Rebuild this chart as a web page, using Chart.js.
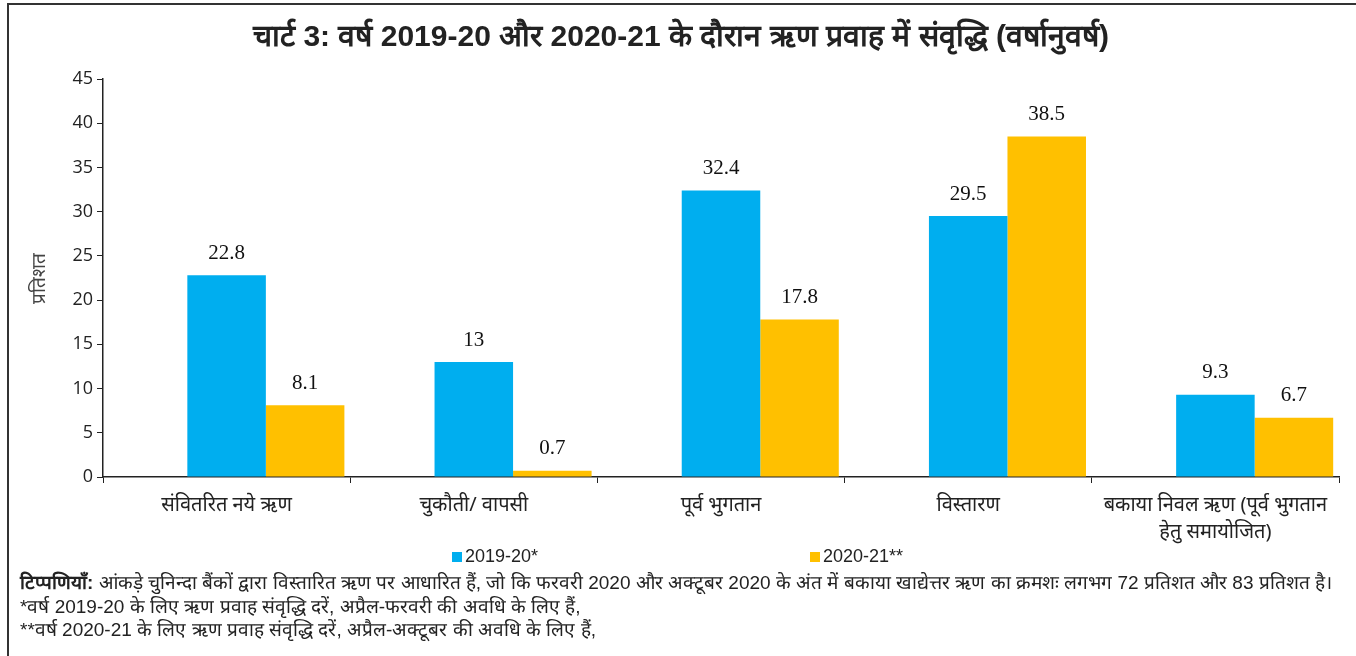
<!DOCTYPE html>
<html lang="hi">
<head>
<meta charset="utf-8">
<script src="https://cdn.jsdelivr.net/npm/chart.js@4.4.0/dist/chart.umd.min.js"></script>
<style>
  body { margin: 0; background: #fff; }
  #wrap { position: relative; width: 1356px; height: 656px; overflow: hidden; }
  #frame { position: absolute; left: 7px; top: 3px; right: -5px; bottom: -5px;
           border-left: 2px solid #333; border-top: 2px solid #333; }
  #chart { position: absolute; left: 0; top: 0; }
  #title { position: absolute; top: 14px; left: 0; width: 1362px; text-align: center;
           font: bold 30px "Liberation Sans Narrow", "Liberation Sans", sans-serif; color: #222; }
  .leg { position: absolute; top: 546px; font: 18px "Liberation Sans Narrow", "Liberation Sans", sans-serif; color: #222; }
  .leg i { display: inline-block; width: 10px; height: 10px; margin-right: 3px; }
  #notes { position: absolute; left: 20px; top: 571px; font: 19px/23.5px "Liberation Sans Narrow", "Liberation Sans", sans-serif; color: #222; white-space: nowrap; }
</style>
</head>
<body>
<div id="wrap">
  <div id="frame"></div>
  <canvas id="chart" width="1356" height="656"></canvas>
  <div id="title">चार्ट 3: वर्ष 2019-20 और 2020-21 के दौरान ऋण प्रवाह में संवृद्धि (वर्षानुवर्ष)</div>
  <div class="leg" id="leg1"></div>
  <div class="leg" id="leg2"></div>
  <div id="notes">
    <b>टिप्पणियाँ:</b> आंकड़े चुनिन्दा बैंकों द्वारा विस्तारित ऋण पर आधारित हैं, जो कि फरवरी 2020 और अक्टूबर 2020 के अंत में बकाया खाद्येत्तर ऋण का क्रमशः लगभग 72 प्रतिशत और 83 प्रतिशत है।<br>
    *वर्ष 2019-20 के लिए ऋण प्रवाह संवृद्धि दरें, अप्रैल-फरवरी की अवधि के लिए हैं,<br>
    **वर्ष 2020-21 के लिए ऋण प्रवाह संवृद्धि दरें, अप्रैल-अक्टूबर की अवधि के लिए हैं,
  </div>
</div>
<script>
const categories = [
  'संवितरित नये ऋण',
  'चुकौती/ वापसी',
  'पूर्व भुगतान',
  'विस्तारण',
  ['बकाया निवल ऋण (पूर्व भुगतान', 'हेतु समायोजित)']
];
const series2019 = [22.8, 13, 32.4, 29.5, 9.3];
const series2020 = [8.1, 0.7, 17.8, 38.5, 6.7];
const seriesNames = ['2019-20*', '2020-21**'];
const seriesColors = ['#00AEEF', '#FFC000'];
const yTicks = [0, 5, 10, 15, 20, 25, 30, 35, 40, 45];

// legend boxes
[['leg1', 452], ['leg2', 810]].forEach(([id, left], i) => {
  const el = document.getElementById(id);
  el.style.left = left + 'px';
  el.innerHTML = '<i style="background:' + seriesColors[i] + '"></i>' + seriesNames[i];
});

// value labels above each bar
const barLabels = {
  id: 'barLabels',
  afterDatasetsDraw(chart) {
    const ctx = chart.ctx;
    ctx.save();
    ctx.font = '21px "Liberation Serif", serif';
    ctx.fillStyle = '#111';
    ctx.textAlign = 'center';
    ctx.textBaseline = 'middle';
    chart.data.datasets.forEach((ds, di) => {
      if (!ds.label) return;
      chart.getDatasetMeta(di).data.forEach((bar, i) => {
        ctx.fillText(String(ds.data[i]), bar.x, bar.y - 22);
      });
    });
    ctx.restore();
  }
};

const ctx = document.getElementById('chart').getContext('2d');
new Chart(ctx, {
  type: 'bar',
  data: {
    labels: categories,
    datasets: [
      // empty first slot in each group
      { label: '', data: categories.map(() => null) },
      { label: seriesNames[0], data: series2019, backgroundColor: seriesColors[0] },
      { label: seriesNames[1], data: series2020, backgroundColor: seriesColors[1] }
    ]
  },
  options: {
    responsive: false,
    animation: false,
    datasets: { bar: { categoryPercentage: 0.953, barPercentage: 1 } },
    layout: { padding: { left: 0, top: 79, right: 17, bottom: 0 } },
    plugins: {
      legend: { display: false },
      tooltip: { enabled: false }
    },
    scales: {
      x: {
        afterFit(scale) { scale.height = 179; },
        grid: { offset: true, drawOnChartArea: false, tickLength: 6, color: '#222' },
        border: { color: '#222', width: 1.5 },
        ticks: {
          padding: 9,
          color: '#222',
          font: { family: '"Noto Sans", sans-serif', size: 20, lineHeight: 1.35 },
          maxRotation: 0,
          autoSkip: false
        }
      },
      y: {
        min: 0,
        max: 45,
        afterFit(scale) { scale.width = 103; },
        afterBuildTicks(scale) { scale.ticks = yTicks.map(v => ({ value: v })); },
        grid: { drawOnChartArea: false, tickLength: 6, color: '#222' },
        border: { color: '#222', width: 1.5 },
        ticks: {
          padding: 4,
          color: '#222',
          font: { family: '"Open Sans", sans-serif', size: 18 }
        },
        title: {
          display: true,
          text: 'प्रतिशत',
          color: '#444',
          font: { family: '"Liberation Sans Narrow", sans-serif', size: 19 },
          padding: { top: 28 }
        }
      }
    }
  },
  plugins: [barLabels]
});
</script>
</body>
</html>
